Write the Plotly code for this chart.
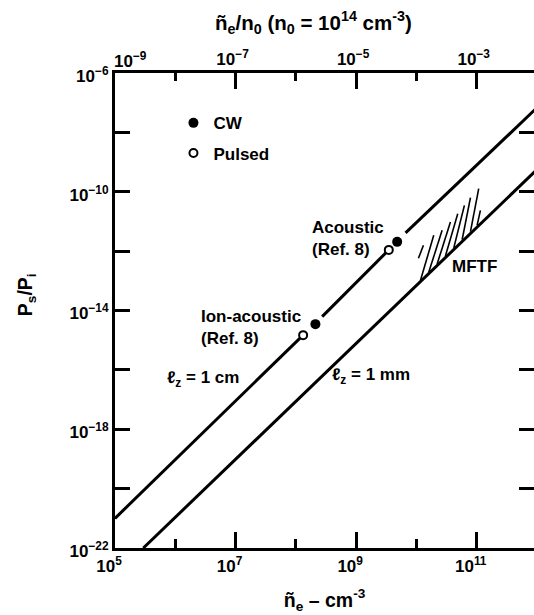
import plotly.graph_objects as go

# ---------------- data ----------------
# l_z = 1 cm line (segments separated by None where the scan shows gaps)
cm_n = [1.0e5, 1.32e8, None, 2.73e8, 3.48e9, None, 6.6e9, 1.0e12]
cm_P = [1.0e-21, 1.48e-15, None, 6.2e-15, 1.1e-12, None, 4.1e-12, 6.8e-8]
# l_z = 1 mm line
mm_n = [2.95e5, 1.0e12]
mm_P = [1.0e-22, 5.6e-10]
# experimental points
cw_n = [2.11e8, 4.79e9]
cw_P = [3.47e-15, 2.05e-12]
pulsed_n = [1.32e8, 3.48e9]
pulsed_P = [1.48e-15, 1.1e-12]
# MFTF hatch strokes (log10 of start / end)
hatch_logn_lo = [10.066, 10.204, 10.343, 10.481, 10.619, 10.758, 10.896, 11.007, 10.033]
hatch_logP_lo = [-12.989, -12.713, -12.437, -12.164, -11.892, -11.616, -11.343, -11.124, -12.242]
hatch_logn_hi = [10.287, 10.426, 10.564, 10.685, 10.796, 10.896, 11.033, 11.061, 10.116]
hatch_logP_hi = [-11.468, -11.300, -11.020, -10.738, -10.458, -10.199, -9.896, -10.627, -11.804]
# normalising density for the top axis
n0 = 1e14
# ticks
x_major = [1e5, 1e7, 1e9, 1e11]
x_major_text = ['10<sup>5</sup>', '10<sup>7</sup>', '10<sup>9</sup>', '10<sup>11</sup>']
x_minor = [1e6, 1e8, 1e10]
top_major = [1e-9, 1e-7, 1e-5, 1e-3]
top_major_text = ['', '10<sup>−7</sup>', '10<sup>−5</sup>', '10<sup>−3</sup>']
top_minor = [1e-8, 1e-6, 1e-4]
y_ticks = [1e-22, 1e-20, 1e-18, 1e-16, 1e-14, 1e-12, 1e-10, 1e-8, 1e-6]
y_text = ['10<sup>−22</sup>', '', '10<sup>−18</sup>', '', '10<sup>−14</sup>', '',
          '10<sup>−10</sup>', '', '10<sup>−6</sup>']
y_right_ticks = [1e-20, 1e-18, 1e-16, 1e-14, 1e-12, 1e-10, 1e-8]

FONT = 'Liberation Sans, Arial, DejaVu Sans, sans-serif'
FS = 17
fnt = dict(family=FONT, size=FS, color='black', weight='bold')
fnt_title = dict(family=FONT, size=19.5, color='black', weight='bold')
fnt_top = dict(family=FONT, size=20.5, color='black', weight='bold')

hx, hy = [], []
for a, b, c, d in zip(hatch_logn_lo, hatch_logP_lo, hatch_logn_hi, hatch_logP_hi):
    hx += [10 ** a, 10 ** c, None]
    hy += [10 ** b, 10 ** d, None]

fig = go.Figure()
fig.add_trace(go.Scatter(x=cm_n, y=cm_P, mode='lines', line=dict(color='black', width=3),
                         showlegend=False, hoverinfo='skip'))
fig.add_trace(go.Scatter(x=mm_n, y=mm_P, mode='lines', line=dict(color='black', width=3),
                         showlegend=False, hoverinfo='skip'))
# same 1 mm line expressed in n/n0 on the top axis (invisible, keeps top/right axes drawn)
fig.add_trace(go.Scatter(x=[v / n0 for v in mm_n], y=mm_P, mode='lines', xaxis='x2', yaxis='y2',
                         line=dict(color='rgba(0,0,0,0)', width=0), showlegend=False,
                         hoverinfo='skip'))
fig.add_trace(go.Scatter(x=hx, y=hy, mode='lines', line=dict(color='black', width=1.6),
                         showlegend=False, hoverinfo='skip'))
fig.add_trace(go.Scatter(x=cw_n, y=cw_P, mode='markers', name='CW',
                         marker=dict(symbol='circle', size=10, color='black',
                                     line=dict(color='black', width=0)), legendgroup='a'))
fig.add_trace(go.Scatter(x=pulsed_n, y=pulsed_P, mode='markers', name='Pulsed',
                         marker=dict(symbol='circle', size=8, color='white',
                                     line=dict(color='black', width=2)), legendgroup='b'))

axis_common = dict(showgrid=False, zeroline=False, linecolor='black', tickcolor='black',
                   tickfont=fnt)

fig.update_layout(
    width=534, height=615,
    margin=dict(l=115, r=0, t=73, b=67),
    plot_bgcolor='white', paper_bgcolor='white',
    font=fnt,
    showlegend=True,
    legend=dict(x=0.1395, y=0.932, xanchor='left', yanchor='top', bgcolor='rgba(0,0,0,0)',
                font=fnt, tracegroupgap=5),
    xaxis=dict(type='log', range=[5, 11.95], showline=True, linewidth=3,
               ticks='inside', ticklen=16, tickwidth=2.5,
               tickmode='array', tickvals=x_major, ticktext=x_major_text,
               minor=dict(tickmode='array', tickvals=x_minor, ticks='inside', ticklen=9,
                          tickwidth=2.5, tickcolor='black'),
               ticklabelshift=-6, ticklabelstandoff=1,
               title=dict(text='ñ<sub>e</sub> – cm<sup>-3</sup>', standoff=18, font=fnt_title),
               **axis_common),
    xaxis2=dict(type='log', range=[-9, -2.05], overlaying='x', side='top', anchor='y',
                showline=True, linewidth=3, ticks='inside', ticklen=16, tickwidth=2.5,
                tickmode='array', tickvals=top_major, ticktext=top_major_text,
                minor=dict(tickmode='array', tickvals=top_minor, ticks='inside', ticklen=8,
                           tickwidth=2.5, tickcolor='black'),
                ticklabelshift=-3, ticklabelstandoff=-2,
                **axis_common),
    yaxis=dict(type='log', range=[-22, -6], showline=True, linewidth=3,
               ticks='inside', ticklen=15, tickwidth=2.5,
               tickmode='array', tickvals=y_ticks, ticktext=y_text,
               ticklabelshift=3, ticklabelstandoff=0,
               **axis_common),
    yaxis2=dict(type='log', range=[-22, -6], overlaying='y', side='right', anchor='x',
                showline=False, ticks='inside', ticklen=15, tickwidth=2.5,
                tickmode='array', tickvals=y_right_ticks, showticklabels=False,
                **axis_common),
)

ann = [
    dict(text='ñ<sub>e</sub>/n<sub>0</sub> (n<sub>0</sub> = 10<sup>14</sup> cm<sup>-3</sup>)',
         xref='paper', yref='paper', x=0.4726, y=1.106, xanchor='center', yanchor='middle',
         font=fnt_top),
    dict(text='10<sup>−9</sup>', xref='paper', yref='paper', x=0.038, y=1.027,
         xanchor='center', yanchor='middle'),
    dict(text='P<sub>s</sub>/P<sub>i</sub>', xref='paper', yref='paper', x=-0.212, y=0.5326,
         xanchor='center', yanchor='middle', textangle=-90, font=fnt_title),
    dict(text='Acoustic', xref='x', yref='y', x=8.230, y=-11.188, xanchor='left', yanchor='middle'),
    dict(text='(Ref. 8)', xref='x', yref='y', x=8.230, y=-11.939, xanchor='left', yanchor='middle'),
    dict(text='Ion-acoustic', xref='x', yref='y', x=6.390, y=-14.217, xanchor='left', yanchor='middle'),
    dict(text='(Ref. 8)', xref='x', yref='y', x=6.390, y=-14.944, xanchor='left', yanchor='middle'),
    dict(text='ℓ<sub>z</sub> = 1 cm', xref='x', yref='y', x=5.837, y=-16.31, xanchor='left', yanchor='middle'),
    dict(text='ℓ<sub>z</sub> = 1 mm', xref='x', yref='y', x=8.574, y=-16.21, xanchor='left', yanchor='middle'),
    dict(text='MFTF', xref='x', yref='y', x=10.552, y=-12.534, xanchor='left', yanchor='middle'),
]
for a in ann:
    a.setdefault('showarrow', False)
    a.setdefault('font', fnt)
fig.update_layout(annotations=ann)

fig.write_html('out.html', config={'displayModeBar': False},
               post_script="document.body.style.margin='0px';")
